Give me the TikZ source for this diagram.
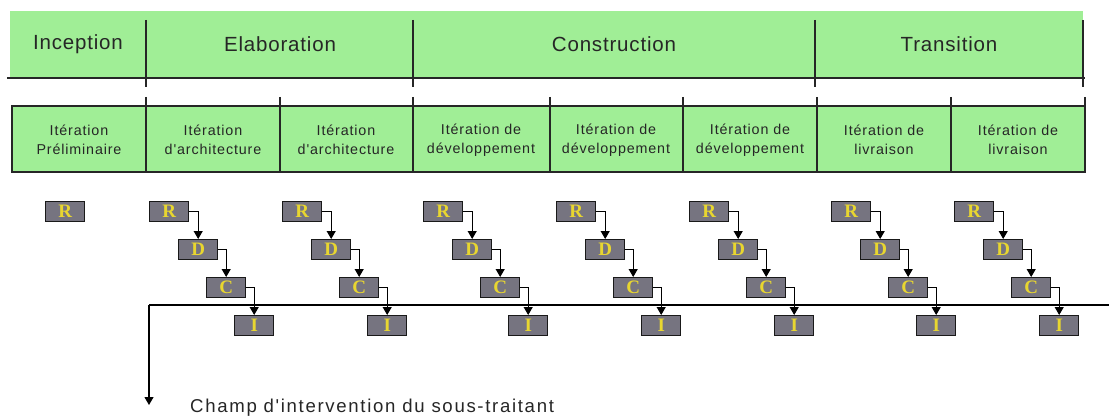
\documentclass[tikz,border=0pt]{standalone}
\usepackage{fontspec}
\setmainfont{Liberation Sans}[Ligatures=TeXOff]
\newfontfamily\boxfont{Liberation Serif}[Ligatures=TeXOff]
\newfontfamily\widefont{Liberation Sans}[Ligatures=TeXOff,LetterSpace=4]
\newfontfamily\iterfont{Liberation Sans}[Ligatures=TeXOff,LetterSpace=6]
\newfontfamily\champfont{Liberation Sans}[Ligatures=TeXOff,LetterSpace=9]
\usetikzlibrary{arrows.meta}
\definecolor{bandgreen}{RGB}{160,238,150}
\definecolor{boxgray}{RGB}{118,116,128}
\definecolor{lettery}{RGB}{232,214,48}
\tikzset{
  phaselbl/.style={font=\widefont\fontsize{20.5}{22}\selectfont, text=black!85, anchor=center},
  iterlbl/.style={font=\iterfont\fontsize{14.3}{19}\selectfont, align=center, text=black!85, anchor=center},
  stepbox/.style={draw=black!90, line width=1.4pt, fill=boxgray, minimum width=39pt, minimum height=20pt,
    inner sep=0pt, anchor=north west, text=lettery, font=\boxfont\bfseries\fontsize{19}{19}\selectfont},
  conn/.style={draw=black, line width=1.1pt, -{Triangle[width=9pt,length=8pt]}},
  divider/.style={draw=black!85, line width=1.2pt},
}
\begin{document}
\begin{tikzpicture}[x=1pt,y=-1pt]
\useasboundingbox (0,0) rectangle (1109,417);
% phase band
\fill[bandgreen] (10,11) rectangle (1083,77);
\draw[divider] (7,78) -- (1085,78);
\foreach \x in {146,413,815,1083} {\draw[divider] (\x,20) -- (\x,87);}
\node[phaselbl] (p1) at (78,44) {Inception};
\node[phaselbl] (p2) at (280,44) {Elaboration};
\node[phaselbl] (p3) at (614,44) {Construction};
\node[phaselbl] (p4) at (949,44) {Transition};
% iteration band
\fill[bandgreen] (12,106) rectangle (1085,172);
\draw[divider] (12,106) rectangle (1085,172);
\foreach \x in {146,280,413,550,683,817,951,1085} {\draw[divider] (\x,97) -- (\x,172);}
\node[iterlbl] (it1) at (79,140) {Itération\\Préliminaire};
\node[iterlbl] (it2) at (213,140) {Itération\\d'architecture};
\node[iterlbl] (it3) at (346,140) {Itération\\d'architecture};
\node[iterlbl] (it4) at (481,140) {Itération de\\développement};
\node[iterlbl] (it5) at (616,140) {Itération de\\développement};
\node[iterlbl] (it6) at (750,140) {Itération de\\développement};
\node[iterlbl] (it7) at (884,140) {Itération de\\livraison};
\node[iterlbl] (it8) at (1018,140) {Itération de\\livraison};
% main line
\coordinate (ml) at (149,305);
\coordinate (mr) at (1109,305);
\coordinate (mb) at (149,405);
\draw[line width=1.1pt] (mr) -- (ml);
\draw[conn] (ml) -- (mb);
\node[anchor=west, font=\champfont\fontsize{18.6}{20}\selectfont, text=black!85, inner sep=0pt] (champ) at (190,408) {Champ d'intervention du sous-traitant};
% boxes
\node[stepbox] (R1) at (45,201) {R};
\foreach \i/\x in {2/149,3/282,4/423,5/556,6/689,7/831,8/954} {
  \node[stepbox] (R\i) at (\x,201) {R};
  \node[stepbox] (D\i) at (\x+29,239) {D};
  \node[stepbox] (C\i) at (\x+57,277) {C};
  \node[stepbox] (I\i) at (\x+85,315) {I};
  \draw[conn] (R\i.east) -| (D\i.north);
  \draw[conn] (D\i.east) -| (C\i.north);
  \draw[conn] (C\i.east) -| (I\i.north);
}
\end{tikzpicture}
\end{document}
